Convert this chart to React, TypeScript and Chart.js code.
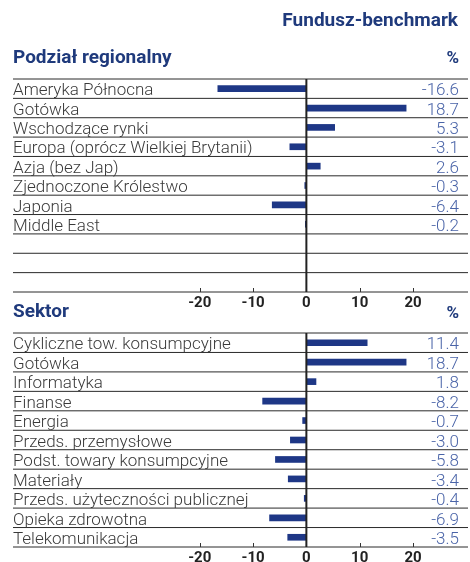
import React, { useEffect, useRef } from "react";
import { Chart, registerables } from "chart.js";

Chart.register(...registerables);

const regionLabels = [
  "Ameryka Północna",
  "Gotówka",
  "Wschodzące rynki",
  "Europa (oprócz Wielkiej Brytanii)",
  "Azja (bez Jap)",
  "Zjednoczone Królestwo",
  "Japonia",
  "Middle East",
  "",
  "",
  "",
];
const regionValues: (number | null)[] = [-16.6, 18.7, 5.3, -3.1, 2.6, -0.3, -6.4, -0.2, null, null, null];

const sectorLabels = [
  "Cykliczne tow. konsumpcyjne",
  "Gotówka",
  "Informatyka",
  "Finanse",
  "Energia",
  "Przeds. przemysłowe",
  "Podst. towary konsumpcyjne",
  "Materiały",
  "Przeds. użyteczności publicznej",
  "Opieka zdrowotna",
  "Telekomunikacja",
];
const sectorValues: (number | null)[] = [11.4, 18.7, 1.8, -8.2, -0.7, -3.0, -5.8, -3.4, -0.4, -6.9, -3.5];

const tickValues = [-20, -10, 0, 10, 20];

const NAVY = "#1f3a7c";
const BAR = "#1e3786";
const VALUE_BLUE = "#4a64a8";
const LABEL_GRAY = "#3a3a3a";
const LINE = "#2a2a2a";
const FONT = "Roboto, 'DejaVu Sans', sans-serif";

type Header = { text: string; x: number; y: number; align: CanvasTextAlign; size: number };

function buildChart(
  canvas: HTMLCanvasElement,
  labels: string[],
  values: (number | null)[],
  padTop: number,
  headers: Header[]
) {
  const decor = {
    id: "decor",
    beforeDatasetsDraw(chart: any) {
      const { ctx, chartArea, scales } = chart;
      const y = scales.y;
      ctx.save();
      ctx.strokeStyle = LINE;
      ctx.lineWidth = 1;
      for (let i = 0; i <= labels.length; i++) {
        const py = y.getPixelForValue(i - 0.5);
        ctx.beginPath();
        ctx.moveTo(13, py);
        ctx.lineTo(468, py);
        ctx.stroke();
      }
      // tick marks going up from the axis line
      const x = scales.x;
      ctx.lineWidth = 1;
      ctx.strokeStyle = "#333";
      for (const v of tickValues) {
        const px = Math.round(x.getPixelForValue(v)) + 0.5;
        ctx.beginPath();
        ctx.moveTo(px, chartArea.bottom);
        ctx.lineTo(px, chartArea.bottom - 4);
        ctx.stroke();
      }
      ctx.restore();
    },
    afterDatasetsDraw(chart: any) {
      const { ctx, chartArea, scales } = chart;
      const x = scales.x;
      const y = scales.y;
      ctx.save();
      // zero line
      const zx = x.getPixelForValue(0);
      ctx.strokeStyle = "#222";
      ctx.lineWidth = 2;
      ctx.beginPath();
      ctx.moveTo(zx, chartArea.top);
      ctx.lineTo(zx, chartArea.bottom);
      ctx.stroke();

      // category labels and values
      ctx.textBaseline = "alphabetic";
      ctx.font = `300 17px ${FONT}`;
      labels.forEach((lab, i) => {
        const bottom = y.getPixelForValue(i + 0.5);
        if (lab) {
          ctx.fillStyle = LABEL_GRAY;
          ctx.textAlign = "left";
          ctx.fillText(lab, 13, bottom - 3);
        }
        const v = values[i];
        if (v !== null && v !== undefined) {
          ctx.fillStyle = VALUE_BLUE;
          ctx.textAlign = "right";
          ctx.fillText(v.toFixed(1), 459, bottom - 3);
        }
      });

      // headers
      ctx.fillStyle = NAVY;
      headers.forEach((h) => {
        ctx.font = `bold ${h.size}px ${FONT}`;
        ctx.textAlign = h.align;
        ctx.fillText(h.text, h.x, h.y);
      });
      ctx.restore();
    },
  };

  return new Chart(canvas, {
    type: "bar",
    data: {
      labels,
      datasets: [
        {
          data: values as any,
          backgroundColor: BAR,
          barThickness: 6,
          borderWidth: 0,
        },
      ],
    },
    options: {
      indexAxis: "y",
      animation: false,
      responsive: false,
      maintainAspectRatio: false,
      layout: { padding: { left: 13, right: 2, top: padTop, bottom: 0 } },
      plugins: { legend: { display: false }, tooltip: { enabled: false }, title: { display: false } },
      scales: {
        x: {
          type: "linear",
          min: -55,
          max: 30.3,
          afterBuildTicks: (scale: any) => {
            scale.ticks = tickValues.map((v) => ({ value: v }));
          },
          afterFit: (scale: any) => {
            scale.height = 18;
          },
          grid: { display: false, drawTicks: false },
          border: { display: false },
          ticks: {
            color: "#222",
            padding: 4,
            font: { family: FONT, size: 15, weight: "bold", lineHeight: 1 },
            callback: (v: any) => String(v),
          },
        },
        y: {
          type: "category",
          display: false,
          offset: true,
        },
      },
    },
    plugins: [decor],
  } as any);
}

export default function App() {
  const ref1 = useRef<HTMLCanvasElement>(null);
  const ref2 = useRef<HTMLCanvasElement>(null);

  useEffect(() => {
    const c1 = buildChart(ref1.current!, regionLabels, regionValues, 79, [
      { text: "Fundusz-benchmark", x: 458, y: 26, align: "right", size: 19 },
      { text: "Podział regionalny", x: 13, y: 63, align: "left", size: 19 },
      { text: "%", x: 459, y: 63, align: "right", size: 17 },
    ]);
    const c2 = buildChart(ref2.current!, sectorLabels, sectorValues, 33, [
      { text: "Sektor", x: 13, y: 17, align: "left", size: 19 },
      { text: "%", x: 459, y: 18, align: "right", size: 17 },
    ]);
    return () => {
      c1.destroy();
      c2.destroy();
    };
  }, []);

  return (
    <div
      style={{
        position: "fixed",
        left: 0,
        top: 0,
        width: 470,
        height: 562,
        overflow: "hidden",
        background: "#fff",
      }}
    >
      <canvas
        ref={ref1}
        width={470}
        height={310}
        style={{ position: "absolute", left: 0, top: 0, width: 470, height: 310 }}
      />
      <canvas
        ref={ref2}
        width={470}
        height={265}
        style={{ position: "absolute", left: 0, top: 300, width: 470, height: 265 }}
      />
    </div>
  );
}
